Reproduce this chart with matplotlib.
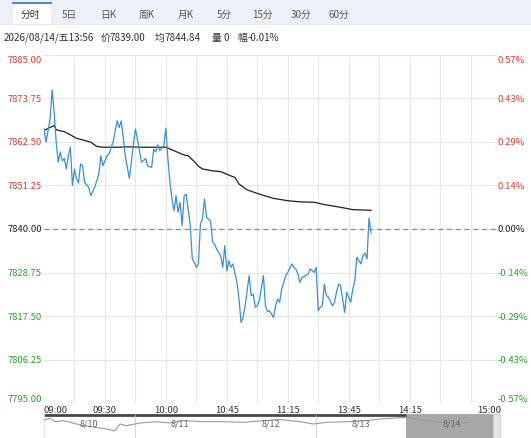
import matplotlib
matplotlib.use("Agg")
import matplotlib.pyplot as plt
from matplotlib.patches import Rectangle
import matplotlib.transforms as mtrans

plt.rcParams['font.family'] = ['Noto Sans CJK SC', 'DejaVu Sans']

# ---------------- data ----------------
base_price = 7840.0
price_step = 11.25
level_count = 4  # levels above/below base

price_min = [0, 1, 2, 3, 4, 5, 6, 7, 8, 9, 10, 11, 12, 13, 14, 15, 16, 17, 18, 19, 20,
             22, 23, 25, 27, 28, 29, 31, 32, 34, 35, 36, 37, 38, 39, 40, 42, 43, 44, 45,
             46, 48, 50, 51, 53, 54, 55, 56, 57, 59, 60, 61, 62, 63, 64, 65, 66, 67, 68,
             69, 70, 72, 73, 74, 75, 76, 77, 78, 79, 80, 82, 83, 84, 85, 87, 88, 89, 90,
             91, 92, 93, 95, 96, 97, 98, 99, 101, 102, 103, 104, 105, 106, 108, 109, 110,
             111, 113, 114, 115, 116, 117, 118, 119, 120, 122, 123, 124, 125, 126, 127,
             129, 130, 131, 133, 134, 135, 136, 137, 138, 139, 140, 142, 143, 144, 145,
             146, 147, 148, 149, 150, 151, 152, 153, 154, 156, 157, 158, 159, 160, 161]
price_val = [7866.0, 7862.4, 7865.4, 7868.4, 7875.9, 7870.1, 7862.4, 7857.2, 7859.9, 7857.6,
             7858.2, 7855.5, 7858.9, 7861.1, 7851.2, 7855.5, 7852.9, 7851.9, 7856.8, 7856.3,
             7852.0, 7850.8, 7848.6, 7850.8, 7854.2, 7858.9, 7856.3, 7858.9, 7859.4, 7862.4,
             7865.1, 7867.9, 7866.2, 7867.9, 7863.7, 7858.9, 7853.1, 7857.2, 7861.9, 7865.8,
             7863.2, 7857.2, 7858.2, 7856.3, 7855.9, 7860.6, 7859.9, 7861.7, 7860.2, 7861.5,
             7866.0, 7858.1, 7852.0, 7847.7, 7844.7, 7848.6, 7844.3, 7846.9, 7840.9, 7848.6,
             7849.0, 7840.9, 7832.3, 7831.4, 7830.1, 7831.0, 7841.3, 7842.6, 7847.7, 7843.0,
             7842.1, 7836.6, 7836.1, 7834.8, 7833.1, 7830.1, 7835.7, 7829.2, 7831.8, 7830.1,
             7831.0, 7826.2, 7821.9, 7815.9, 7817.2, 7820.2, 7828.0, 7822.8, 7823.2, 7819.8,
             7820.2, 7821.5, 7828.0, 7820.2, 7818.7, 7818.9, 7817.2, 7820.2, 7821.9, 7821.1,
             7824.5, 7826.2, 7828.0, 7828.8, 7831.0, 7830.1, 7829.7, 7828.4, 7826.2, 7827.5,
             7828.0, 7828.4, 7829.7, 7828.8, 7830.1, 7818.9, 7819.8, 7820.2, 7825.8, 7822.8,
             7822.4, 7820.2, 7821.1, 7823.7, 7825.8, 7825.4, 7821.9, 7818.5, 7823.7, 7822.4,
             7821.1, 7824.5, 7826.7, 7832.7, 7831.0, 7833.1, 7833.8, 7832.3, 7842.8, 7839.0]

avg_min = [0, 3, 5, 6, 10, 13, 16, 19, 23, 26, 29, 36, 42, 49, 60, 64, 69, 71, 74, 76, 78,
           83, 87, 91, 94, 96, 100, 106, 113, 120, 126, 133, 138, 146, 152, 157, 161]
avg_val = [7865.4, 7866.2, 7866.7, 7865.6, 7865.1, 7864.3, 7863.4, 7863.0, 7862.4, 7861.3,
           7861.1, 7861.1, 7861.2, 7861.1, 7861.1, 7860.2, 7859.1, 7858.9, 7857.4, 7856.2,
           7855.5, 7855.0, 7854.8, 7853.9, 7853.3, 7851.6, 7850.1, 7849.0, 7847.9, 7847.3,
           7847.0, 7846.9, 7846.3, 7845.6, 7845.0, 7844.9, 7844.84]

time_label_min = [0, 30, 60, 90, 120, 150, 180, 225]
time_labels = ["09:00", "09:30", "10:00", "10:45", "11:15", "13:45", "14:15", "15:00"]

tab_labels = ["分时", "5日", "日K", "周K", "月K", "5分", "15分", "30分", "60分"]
info_parts = ["2026/08/14/五13:56", "价", "7839.00", "均", "7844.84", "量", "0", "幅", "-0.01%"]

nav_days = ["8/10", "8/11", "8/12", "8/13", "8/14"]
nav_t = [0.01, 0.07, 0.12, 0.21, 0.32, 0.40, 0.56, 0.69, 0.78, 0.84, 0.91, 1.06, 1.24, 1.39,
         1.54, 1.76, 1.98, 2.20, 2.42, 2.60, 2.83, 2.97, 3.12, 3.34, 3.56, 3.71, 3.82, 4.02,
         4.15, 4.37, 4.59, 4.70]
nav_val = [7856.5, 7863.5, 7846.5, 7851.5, 7840, 7830, 7818.5, 7810, 7801.5, 7835, 7826.5,
           7840, 7846.5, 7840, 7851.5, 7846.5, 7846.5, 7843.5, 7851.5, 7857.5, 7846.5, 7835,
           7843.5, 7846.5, 7851.5, 7860, 7863.5, 7868.5, 7856.5, 7843.5, 7840, 7843.5]

# ---------------- styling ----------------
W, H = 531, 439
RED = "#e23a32"
GREEN = "#26a226"
BLUE = "#3a8fd2"
GRID = "#e6e6e6"

fig = plt.figure(figsize=(W / 100, H / 100), dpi=100)


def rect(x0, y0, x1, y1):
    return [x0 / W, 1 - y1 / H, (x1 - x0) / W, (y1 - y0) / H]


# background / decorations axes in pixel coordinates
bg = fig.add_axes([0, 0, 1, 1])
bg.set_xlim(0, W)
bg.set_ylim(H, 0)
bg.axis('off')

bg.add_patch(Rectangle((0, 0), W, 25, color="#edf1f7", lw=0))
bg.plot([0, W], [25, 25], color="#dfe5ee", lw=0.6)
bg.add_patch(Rectangle((13.3, 3.5), 37.4, 22, color="white", lw=0))
bg.plot([13.3, 50.7], [4.2, 4.2], color="#2f7fd8", lw=1.3)
tab_x = [30.7, 69, 108, 146.7, 186, 224, 262, 301, 339]
for tx, lab in zip(tab_x, tab_labels):
    bg.text(tx, 15, lab, ha='center', va='center', fontsize=7,
            color="#333333" if lab == "分时" else "#555555")
info_x = [3.3, 101, 110, 155, 165, 212, 223, 237, 248]
for ix, part in zip(info_x, info_parts):
    bg.text(ix, 38, part, ha='left', va='center', fontsize=7.1, color="#333333")

# navigator decorations
nav_l, nav_r = 44, 497
day_w = (nav_r - nav_l) / 5
bg.plot([nav_l, nav_l + 4 * day_w], [415.7, 415.7], color="#474747", lw=2.0,
        solid_capstyle='butt')
bg.add_patch(Rectangle((nav_l + 4 * day_w, 415), 493 - (nav_l + 4 * day_w), 24,
                       color="#a8a8a8", lw=0))
bg.add_patch(Rectangle((493, 415), 7, 24, facecolor="#e4e4e4", edgecolor="#c8c8c8", lw=0.6))
for k in (1, 3):
    xx = nav_l + k * day_w
    bg.plot([xx, xx], [416.5, 439], color="#d0d0d0", lw=0.6)
bg.plot([nav_l, nav_l], [416.5, 439], color="#e0e0e0", lw=0.6)

# ---------------- main chart ----------------
ax = fig.add_axes(rect(44, 55.6, 497, 404.4))
ax.set_facecolor('none')
lo = base_price - level_count * price_step
hi = base_price + level_count * price_step
ax.set_ylim(lo, hi)
ax.set_xlim(0, 223)
levels = [base_price + k * price_step for k in range(-level_count, level_count + 1)]
ax.set_yticks(levels)
ax.set_xticks(list(range(15, 223, 15)))
ax.grid(True, color=GRID, lw=0.8)
ax.tick_params(length=0, labelleft=False, labelbottom=False)
for s in ax.spines.values():
    s.set_visible(False)

ax.axhline(base_price, color="#8c8c8c", lw=0.9, ls=(0, (4, 3)), zorder=2)
ax.plot(avg_min, avg_val, color="#1f1f1f", lw=0.9, zorder=3)
ax.plot(price_min, price_val, color=BLUE, lw=0.9, zorder=4)

tr_y = mtrans.blended_transform_factory(ax.transAxes, ax.transData)
for lv in levels:
    col = RED if lv > base_price + 1e-9 else (GREEN if lv < base_price - 1e-9 else "#222222")
    va = 'center'
    if lv == hi:
        va = 'top'
    elif lv == lo:
        va = 'bottom'
    pct = (lv - base_price) / base_price * 100
    ax.text(-0.005, lv, f"{lv:.2f}", transform=tr_y, ha='right', va=va,
            fontsize=6.8, color=col, clip_on=False)
    ax.text(1.002, lv, f"{pct:.2f}%", transform=tr_y, ha='left', va=va,
            fontsize=6.8, color=col, clip_on=False)

tr_x = mtrans.blended_transform_factory(ax.transData, ax.transAxes)
for m, lab in zip(time_label_min, time_labels):
    ha = 'center'
    if m == time_label_min[0]:
        ha = 'left'
    elif m == time_label_min[-1]:
        ha = 'right'
    ax.text(m, -0.005, lab, transform=tr_x, ha=ha, va='top', fontsize=6.8,
            color="#333333", clip_on=False)

# ---------------- navigator line ----------------
nav = fig.add_axes(rect(nav_l, 416, nav_r, 439))
nav.set_facecolor('none')
nav.axis('off')
nav.set_xlim(0, 5)
nav.set_ylim(7765, 7880)
nav.plot(nav_t, nav_val, color="#9a9a9a", lw=0.8)
for i, d in enumerate(nav_days):
    nav.text(i + 0.5, 7838, d, ha='center', va='center', fontsize=6.5, color="#666666")

fig.savefig("out.png", dpi=100)
